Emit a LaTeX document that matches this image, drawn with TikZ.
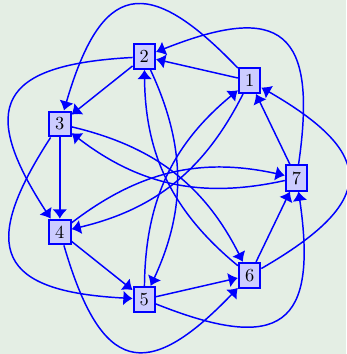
\documentclass[tikz,border=0pt]{standalone}
\usetikzlibrary{arrows.meta}
\definecolor{bgc}{RGB}{228,238,228}
\begin{document}
\begin{tikzpicture}[x=0.5435pt,y=0.5435pt,
  vtx/.style={rectangle,draw=blue,fill=blue!20,line width=1.1pt,text=black},
  edge/.style={draw=blue,line width=0.8pt,-{Latex[length=5pt,width=8pt]}},
  outer/.style={edge,bend right=60,looseness=1.9},
  inner/.style={edge,bend left=25}]
\fill[bgc] (0,0) rectangle (346,354);
\useasboundingbox (0,0) rectangle (346,354);
\node[vtx] (n1) at (249.6,273.3) {1};
\node[vtx] (n2) at (144.3,297.4) {2};
\node[vtx] (n3) at (59.8,230.0) {3};
\node[vtx] (n4) at (59.8,122.0) {4};
\node[vtx] (n5) at (144.3,54.6) {5};
\node[vtx] (n6) at (249.6,78.7) {6};
\node[vtx] (n7) at (296.5,176.0) {7};
\foreach \a/\b in {1/2,2/3,3/4,4/5,5/6,6/7,7/1}
  \draw[edge] (n\a) -- (n\b);
\foreach \a/\b in {1/3,2/4,3/5,4/6,5/7,6/1,7/2}
  \draw[outer] (n\a) to (n\b);
\foreach \a/\b in {1/4,2/5,3/6,4/7,5/1,6/2,7/3}
  \draw[inner] (n\a) to (n\b);
\end{tikzpicture}
\end{document}
